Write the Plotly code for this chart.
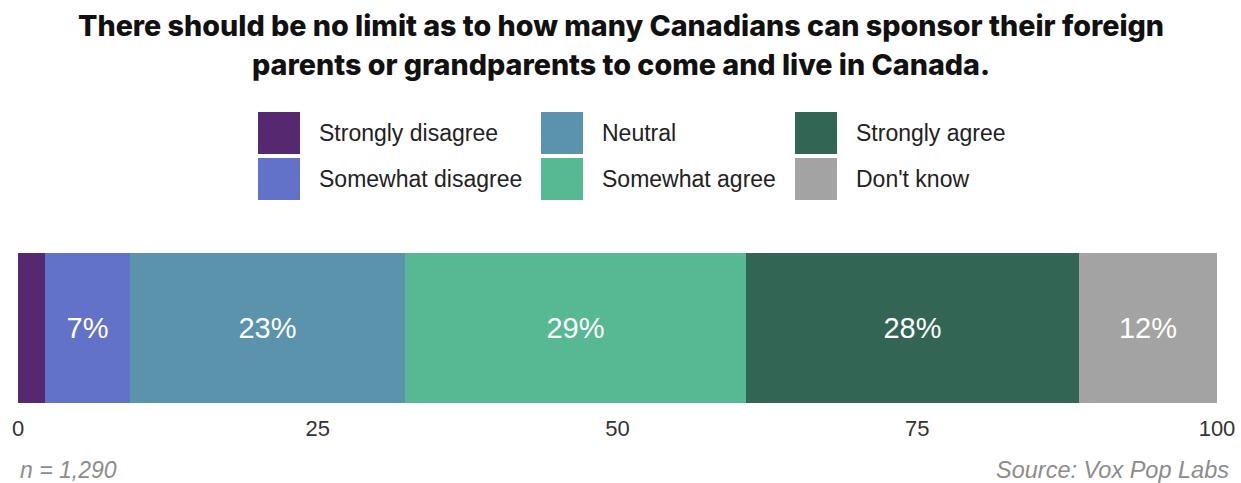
import plotly.graph_objects as go

categories = ["Strongly disagree", "Somewhat disagree", "Neutral",
              "Somewhat agree", "Strongly agree", "Don't know"]
values = [2.25, 7.1, 22.9, 28.5, 27.7, 11.55]
labels = ["", "7%", "23%", "29%", "28%", "12%"]
colors = ["#55286f", "#6272c8", "#5b93ad", "#57b993", "#326553", "#a3a3a3"]
tick_vals = [0, 25, 50, 75, 100]

W, H = 1241, 483
L, R, T, B = 18, 24, 253, 80
pw = W - L - R
ph = H - T - B
FONT = "Liberation Sans, Arial, sans-serif"

fig = go.Figure()
for cat, v, lab, c in zip(categories, values, labels, colors):
    fig.add_trace(go.Bar(
        y=["q"], x=[v], orientation="h", name=cat,
        marker=dict(color=c, line=dict(width=0)),
        text=[lab], textposition="inside", insidetextanchor="middle",
        textfont=dict(family=FONT, size=29, color="white"),
        hoverinfo="skip", showlegend=False,
    ))

def px_x(p):
    return (p - L) / pw

def px_y(p):
    return (H - B - p) / ph

# custom legend (big square swatches)
col_x = [258, 541, 795]
row_y = [112, 158]
sw = 42
for i, (cat, c) in enumerate(zip(categories, colors)):
    col, row = divmod(i, 2)
    x0 = col_x[col]
    y0 = row_y[row]
    fig.add_shape(type="rect", xref="paper", yref="paper",
                  x0=px_x(x0), x1=px_x(x0 + sw), y0=px_y(y0 + sw), y1=px_y(y0),
                  fillcolor=c, line=dict(width=0))
    fig.add_annotation(xref="paper", yref="paper", x=px_x(x0 + 59), y=px_y(y0 + sw / 2),
                       text=cat, showarrow=False, xanchor="left", yanchor="middle",
                       font=dict(family=FONT, size=23, color="#222"))

title_lines = ["There should be no limit as to how many Canadians can sponsor their foreign",
               "parents or grandparents to come and live in Canada."]
for j, line in enumerate(title_lines):
    fig.add_annotation(xref="paper", yref="paper", x=px_x(W / 2), y=px_y(25 + 39 * j),
                       text=line, showarrow=False, xanchor="center", yanchor="middle",
                       font=dict(family="Inter, sans-serif", size=28.7, color="#111", weight=800))

fig.add_annotation(xref="paper", yref="paper", x=0, y=px_y(470), text="<i>n = 1,290</i>",
                   showarrow=False, xanchor="left", yanchor="middle",
                   font=dict(family=FONT, size=23, color="#8c8c8c"))
fig.add_annotation(xref="paper", yref="paper", x=px_x(1231), y=px_y(470), text="<i>Source: Vox Pop Labs</i>",
                   showarrow=False, xanchor="right", yanchor="middle",
                   font=dict(family=FONT, size=23.5, color="#8c8c8c"))

fig.update_layout(
    width=W, height=H, autosize=False,
    margin=dict(l=L, r=R, t=T, b=B, autoexpand=False),
    barmode="stack", bargap=0,
    plot_bgcolor="white", paper_bgcolor="white",
    xaxis=dict(range=[0, 100], tickvals=tick_vals, showgrid=False, zeroline=False,
               showline=False, ticks="", ticklabelstandoff=10, automargin=False,
               tickfont=dict(family=FONT, size=22, color="#333")),
    yaxis=dict(range=[-0.5, 0.5], showticklabels=False, showgrid=False, zeroline=False,
               automargin=False),
    uniformtext=dict(mode="show", minsize=10),
)

fig.write_html(
    "out.html",
    config={"displayModeBar": False, "responsive": False},
    post_script=("document.body.style.margin='0';document.body.style.overflow='hidden';"
                 "Plotly.relayout('{plot_id}', {width: %d, height: %d});" % (W, H)),
)
